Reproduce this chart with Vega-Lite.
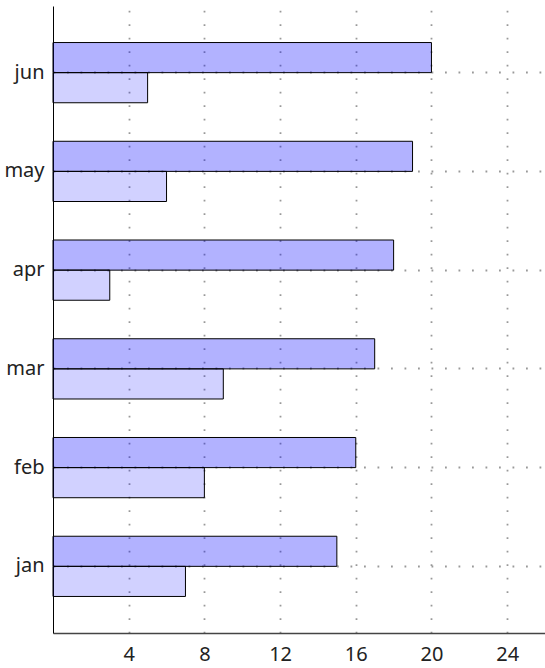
{
  "$schema": "https://vega.github.io/schema/vega-lite/v6.json",
  "width": 492,
  "height": 627,
  "autosize": {"type": "none"},
  "padding": {"left": 53, "top": 6, "right": 0, "bottom": 35},
  "background": "white",
  "config": {
    "view": {"stroke": null},
    "font": "Noto Sans"
  },
  "data": {
    "values": [
      {"month": "jan", "series": "a", "value": 15},
      {"month": "jan", "series": "b", "value": 7},
      {"month": "feb", "series": "a", "value": 16},
      {"month": "feb", "series": "b", "value": 8},
      {"month": "mar", "series": "a", "value": 17},
      {"month": "mar", "series": "b", "value": 9},
      {"month": "apr", "series": "a", "value": 18},
      {"month": "apr", "series": "b", "value": 3},
      {"month": "may", "series": "a", "value": 19},
      {"month": "may", "series": "b", "value": 6},
      {"month": "jun", "series": "a", "value": 20},
      {"month": "jun", "series": "b", "value": 5}
    ]
  },
  "mark": {"type": "bar", "fill": "#0000ff", "stroke": "black", "strokeWidth": 1, "strokeOpacity": 1},
  "encoding": {
    "y": {
      "field": "month",
      "type": "nominal",
      "sort": ["jun", "may", "apr", "mar", "feb", "jan"],
      "scale": {"paddingInner": 0.39, "paddingOuter": 0.37},
      "axis": {
        "title": null,
        "ticks": false,
        "grid": true,
        "bandPosition": 0.5,
        "gridColor": "#999999",
        "gridDash": [1.8, 11.7],
        "gridWidth": 1.8,
        "domainColor": "black",
        "domainWidth": 1,
        "labelFontSize": 20,
        "labelColor": "#222222",
        "labelPadding": 9
      }
    },
    "yOffset": {
      "field": "series",
      "type": "nominal",
      "scale": {"paddingInner": 0, "paddingOuter": 0}
    },
    "x": {
      "field": "value",
      "type": "quantitative",
      "scale": {"domain": [0, 26], "nice": false},
      "axis": {
        "title": null,
        "values": [4, 8, 12, 16, 20, 24],
        "ticks": false,
        "grid": true,
        "gridColor": "#999999",
        "gridDash": [1.8, 11.7],
        "gridWidth": 1.8,
        "domainColor": "#444444",
        "domainWidth": 1.5,
        "labelFontSize": 20,
        "labelColor": "#222222",
        "labelPadding": 11
      }
    },
    "fillOpacity": {
      "field": "series",
      "type": "nominal",
      "scale": {"range": [0.3, 0.18]},
      "legend": null
    }
  }
}
